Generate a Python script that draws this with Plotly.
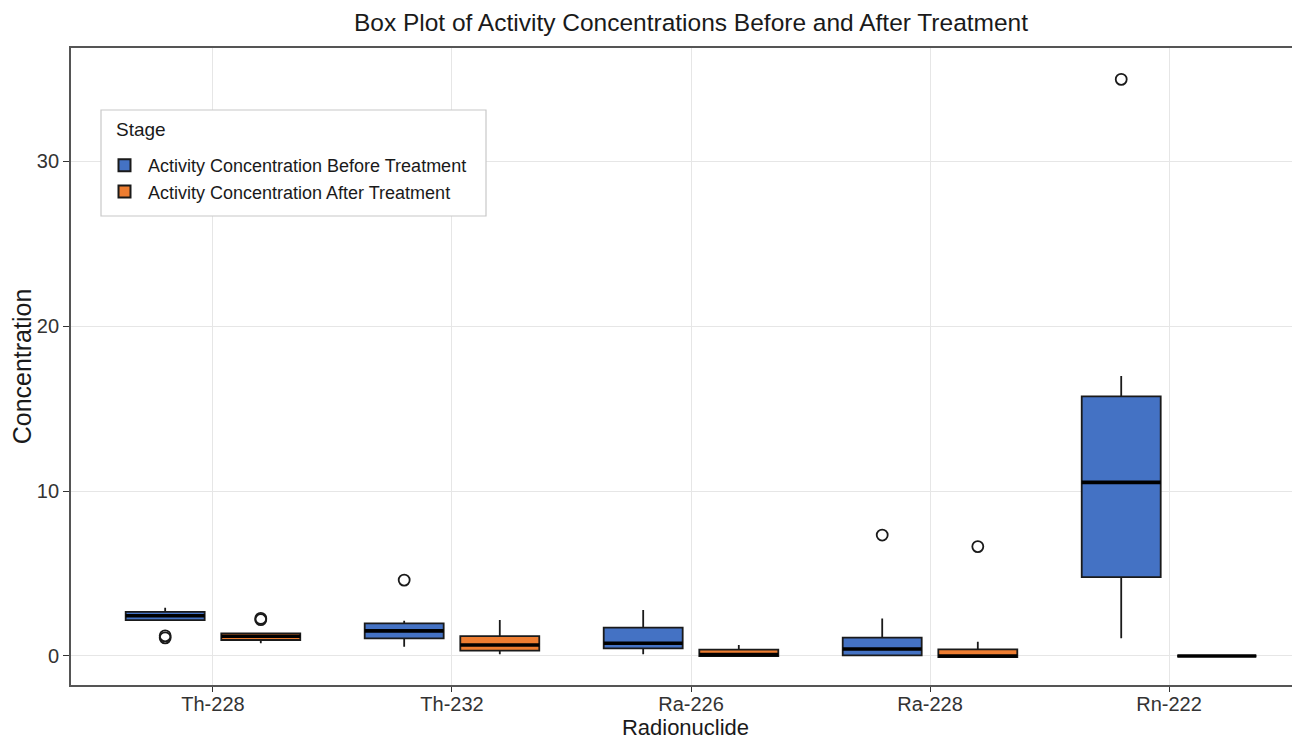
import plotly.graph_objects as go

# ---- data ----
radionuclides = ["Th-228", "Th-232", "Ra-226", "Ra-228", "Rn-222"]

before_lowerfence = [2.18, 0.56, 0.10, 0.00, 1.08]
before_q1 = [2.18, 1.07, 0.46, 0.04, 4.78]
before_median = [2.44, 1.52, 0.77, 0.42, 10.52]
before_q3 = [2.68, 1.98, 1.72, 1.11, 15.74]
before_upperfence = [2.93, 2.14, 2.79, 2.28, 16.97]
before_outliers = [[1.10, 1.22], [4.60], [], [7.33], [34.95]]

after_lowerfence = [0.77, 0.10, 0.00, -0.06, 0.00]
after_q1 = [0.97, 0.32, 0.00, -0.06, 0.00]
after_median = [1.20, 0.67, 0.08, 0.00, 0.00]
after_q3 = [1.37, 1.21, 0.38, 0.40, 0.00]
after_upperfence = [1.37, 2.18, 0.67, 0.87, 0.00]
after_outliers = [[2.20, 2.28], [], [], [6.63], []]

series_names = ["Activity Concentration Before Treatment", "Activity Concentration After Treatment"]
series_keys = ["before", "after"]
series_colors = ["#4472C4", "#ED7D31"]

y_ticks = [0, 10, 20, 30]

FONT = "Liberation Sans, Arial, sans-serif"
OUTLINE = "#1a1a1a"

fig = go.Figure()

stats = [
    (before_lowerfence, before_q1, before_median, before_q3, before_upperfence, before_outliers),
    (after_lowerfence, after_q1, after_median, after_q3, after_upperfence, after_outliers),
]

for name, key, color, (lf, q1, med, q3, uf, outs) in zip(series_names, series_keys, series_colors, stats):
    fig.add_trace(go.Box(
        name=name,
        x=radionuclides,
        y=outs,
        q1=q1, median=med, q3=q3,
        lowerfence=lf, upperfence=uf,
        boxpoints="outliers",
        jitter=0, pointpos=0,
        fillcolor=color,
        line=dict(color=OUTLINE, width=1.8),
        marker=dict(symbol="circle-open", size=11, color=OUTLINE,
                    line=dict(color=OUTLINE, width=1.8)),
        whiskerwidth=0,
        offsetgroup=key,
        hoverinfo="skip",
    ))

# thick (ggplot-style) median bars, drawn in the same offset groups
for key, (lf, q1, med, q3, uf, outs) in zip(series_keys, stats):
    fig.add_trace(go.Box(
        x=radionuclides,
        q1=med, median=med, q3=med,
        lowerfence=med, upperfence=med,
        boxpoints=False,
        fillcolor="rgba(0,0,0,0)",
        line=dict(color="#000000", width=3.6),
        whiskerwidth=0,
        offsetgroup=key,
        showlegend=False,
        hoverinfo="skip",
    ))

# plot area in page pixels (page body adds an 8px offset; margins compensate)
PX0, PX1, PY0, PY1 = 71, 1300, 48, 685


def px(x):
    return (x - PX0) / (PX1 - PX0)


def py(y):
    return (PY1 - y) / (PY1 - PY0)


fig.update_layout(
    width=1300, height=739,
    boxmode="group", boxgap=0.2, boxgroupgap=0.174,
    paper_bgcolor="white", plot_bgcolor="white",
    margin=dict(l=63, r=8, t=40, b=62, autoexpand=False),
    font=dict(family=FONT, color="#1a1a1a"),
    title=dict(text="Box Plot of Activity Concentrations Before and After Treatment",
               x=683 / 1300, xref="container", xanchor="center",
               y=1 - 14 / 739, yref="container", yanchor="middle",
               font=dict(size=24.5, color="#1a1a1a", family=FONT)),
    showlegend=True,
    legend=dict(
        x=px(101), y=py(147), xanchor="left", yanchor="top",
        bgcolor="rgba(0,0,0,0)", borderwidth=0,
        font=dict(size=18, color="#1a1a1a", family=FONT),
        itemsizing="constant", itemwidth=37,
    ),
    shapes=[dict(type="rect", xref="paper", yref="paper",
                 x0=px(101), x1=px(486), y0=py(216), y1=py(110),
                 line=dict(color="#c8c8c8", width=1.2), fillcolor="white", layer="above")],
    annotations=[dict(text="Stage", xref="paper", yref="paper",
                      x=px(114), y=py(130), xanchor="left", yanchor="middle",
                      showarrow=False, font=dict(size=19, color="#1a1a1a", family=FONT))],
    hovermode=False,
)

fig.update_xaxes(
    type="category",
    range=[-0.594, 4.548],
    showgrid=True, gridcolor="#e6e6e6", gridwidth=1.4,
    showline=True, linecolor="#555555", linewidth=1.8, mirror=True,
    ticks="outside", ticklen=5, tickcolor="#333333", tickwidth=1.4,
    ticklabelstandoff=-5,
    tickfont=dict(size=20, color="#333333", family=FONT),
    title=dict(text="Radionuclide", font=dict(size=22, color="#1a1a1a", family=FONT), standoff=0),
    zeroline=False,
)

fig.update_yaxes(
    range=[-1.758, 36.85],
    tickvals=y_ticks,
    showgrid=True, gridcolor="#e6e6e6", gridwidth=1.4,
    showline=True, linecolor="#555555", linewidth=1.8, mirror=False,
    ticks="outside", ticklen=6, tickcolor="#333333", tickwidth=1.4,
    tickfont=dict(size=20, color="#333333", family=FONT),
    title=dict(text="Concentration", font=dict(size=25, color="#1a1a1a", family=FONT), standoff=4),
    zeroline=False,
)

fig.write_html("out.html")
